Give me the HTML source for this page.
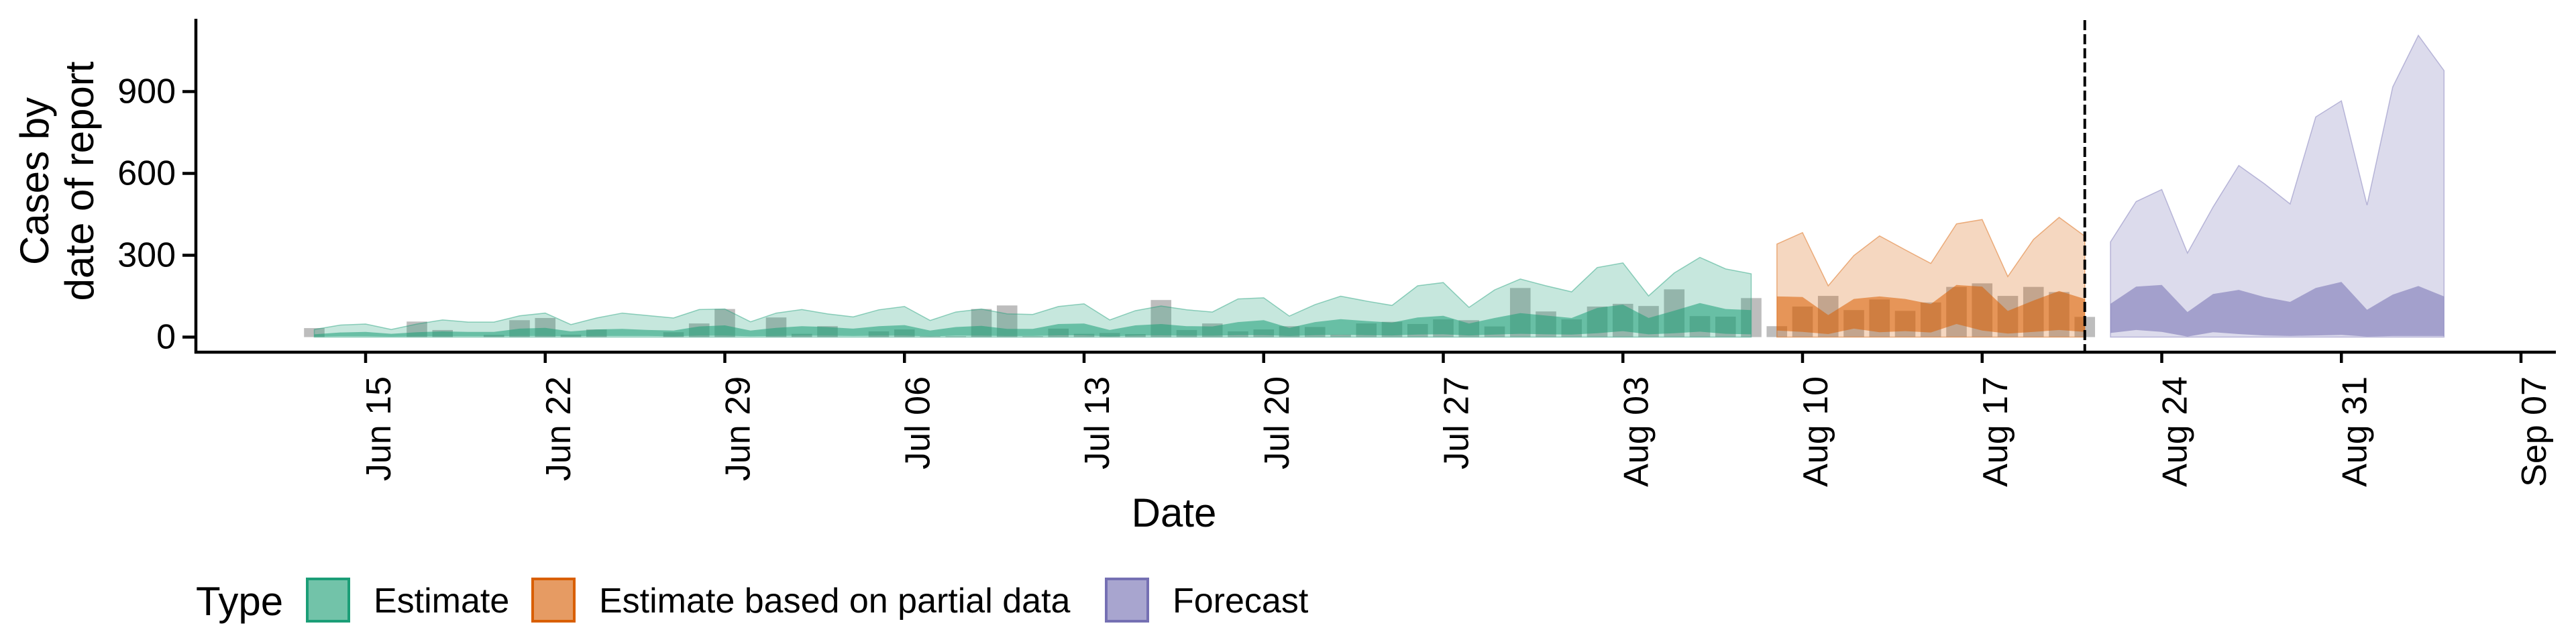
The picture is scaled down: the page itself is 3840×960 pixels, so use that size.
<!DOCTYPE html>
<html><head><meta charset="utf-8"><style>
html,body{margin:0;padding:0;background:#fff;}
svg{display:block;font-family:"Liberation Sans",Arial,sans-serif;}
</style></head><body>
<svg id="chart" width="3840" height="960" viewBox="0 0 3840 960" xmlns="http://www.w3.org/2000/svg">
<g id="bars"></g>
<g id="ribbons"></g>
<g id="axes"></g>
<g id="legend"></g>
</svg>
<script>
// ---- data ----
const startDate = "2020-06-13";
const reportedCases = [33,0,0,0,57,26,0,8,62,70,9,28,0,0,18,50,103,0,
 72,12,40,0,21,28,3,3,103,116,3,31,12,15,11,136,26,50,21,28,40,37,9,50,56,48,65,62,39,180,94,
 65,112,122,114,175,77,75,143,40,112,151,99,138,96,127,184,197,151,184,165,74];
const estOuterUpper = [28,44,48,28,48,63,55,55,78,88,46,70,88,79,70,101,103,56,
 88,101,85,74,100,112,61,92,103,85,83,112,122,63,97,114,100,92,140,144,77,119,150,132,116,188,200,109,173,213,188,
 166,255,272,151,235,292,250,232];
const estInnerUpper = [10,17,19,12,18,21,19,19,31,34,21,28,30,26,24,39,43,24,
 34,40,37,31,40,44,24,37,41,30,30,48,50,26,43,48,40,39,55,62,34,55,66,59,53,72,78,50,70,88,79,
 70,107,119,70,97,125,103,99];
const estInnerLower = [2,3,3,2,3,3,3,3,4,4,3,4,4,4,3,5,5,3,
 4,5,5,4,5,5,3,5,5,4,4,6,6,3,5,6,5,5,7,7,4,7,8,7,6,9,10,6,9,12,10,
 9,14,22,10,14,20,12,10];
const partialOuterUpper = [341,383,188,299,371,320,270,415,431,222,358,439,370];
const partialInnerUpper = [149,147,81,140,149,140,121,191,185,96,134,169,140];
const partialInnerLower = [24,19,11,31,18,22,17,48,24,13,19,26,19];
const forecastOuterUpper = [349,497,541,308,477,629,562,488,807,866,484,917,1106,977];
const forecastInnerUpper = [122,185,191,92,158,173,147,129,180,202,100,156,187,149];
const forecastInnerLower = [15,26,19,2,18,11,6,4,6,8,2,4,4,4];
const yTicks = [0,300,600,900];
const xTickLabels = ["Jun 15","Jun 22","Jun 29","Jul 06","Jul 13","Jul 20","Jul 27","Aug 03","Aug 10","Aug 17","Aug 24","Aug 31","Sep 07"];
const forecastDateOffset = 69; // Aug 22 relative to start
const partialDateOffset = 57;  // Aug 9
const nowcastLineOffset = 69;  // Aug 21 (day index incl. start offset)

// ---- scales ----
const NS = "http://www.w3.org/2000/svg";
const X0 = 545, PXDAY = 38.25, Y0 = 502.5, PXUNIT = 0.4067;
// day index i relative to startDate (Jun 13) -> Jun 15 is i=2
function x(i){ return X0 + (i-2)*PXDAY; }
function y(v){ return Y0 - v*PXUNIT; }
function el(tag, attrs, parent){ const e=document.createElementNS(NS,tag); for(const k in attrs) e.setAttribute(k,attrs[k]); parent.appendChild(e); return e; }

// bars
const barsG = document.getElementById('bars');
reportedCases.forEach((v,i)=>{
  if(v<=0) return;
  const r = el('rect',{x:x(i)-15.3,y:y(v),width:30.6,height:Math.max(0,Y0-y(v)),fill:'#bdbdbd'},barsG);
  
  
});

// ribbons
function ribbon(startIdx, lower, upper, color, op, name, stroke){
  let d='';
  upper.forEach((v,k)=>{ d += (k?'L':'M') + x(startIdx+k).toFixed(1)+','+y(v).toFixed(1); });
  for(let k=lower.length-1;k>=0;k--){ d += 'L'+x(startIdx+k).toFixed(1)+','+y(lower[k]).toFixed(1); }
  d+='Z';
  const p = el('path',{d:d,fill:color,'fill-opacity':op},document.getElementById('ribbons'));
  if(stroke){ p.setAttribute('stroke',color); p.setAttribute('stroke-opacity','0.45'); p.setAttribute('stroke-width','1.5'); }
  
  
}
const zeros = n => new Array(n).fill(0);
ribbon(0, zeros(estOuterUpper.length), estOuterUpper, '#1B9E77', 0.25, 'estimate-outer-ribbon', true);
ribbon(0, estInnerLower, estInnerUpper, '#1B9E77', 0.55, 'estimate-inner-ribbon', false);
ribbon(partialDateOffset, zeros(partialOuterUpper.length), partialOuterUpper, '#D95F02', 0.25, 'partial-outer-ribbon', true);
ribbon(partialDateOffset, partialInnerLower, partialInnerUpper, '#D95F02', 0.55, 'partial-inner-ribbon', false);
ribbon(forecastDateOffset+1, zeros(forecastOuterUpper.length), forecastOuterUpper, '#7570B3', 0.25, 'forecast-outer-ribbon', true);
ribbon(forecastDateOffset+1, forecastInnerLower, forecastInnerUpper, '#7570B3', 0.55, 'forecast-inner-ribbon', false);

// axes
const ax = document.getElementById('axes');
const dl = el('line',{x1:x(nowcastLineOffset),x2:x(nowcastLineOffset),y1:30,y2:525,stroke:'#000','stroke-width':4,'stroke-dasharray':'15 6'},ax);


const ya = el('line',{x1:292,x2:292,y1:28,y2:527,stroke:'#000','stroke-width':4.5},ax);


const xa = el('line',{x1:290,x2:3810,y1:525,y2:525,stroke:'#000','stroke-width':4.5},ax);


yTicks.forEach(v=>{
  const t = el('line',{x1:272,x2:292,y1:y(v),y2:y(v),stroke:'#000','stroke-width':4.5},ax);
  
  
  const lb = el('text',{x:262,y:y(v),'text-anchor':'end','dominant-baseline':'central','font-size':52,fill:'#000'},ax);
  lb.textContent = v;
  
  
});
xTickLabels.forEach((s,k)=>{
  const xx = X0 + k*7*PXDAY;
  const t = el('line',{x1:xx,x2:xx,y1:525,y2:541,stroke:'#000','stroke-width':4.5},ax);
  
  
  const lb = el('text',{transform:`translate(${xx+37},561) rotate(-90)`,'text-anchor':'end','font-size':52,fill:'#000'},ax);
  lb.textContent = s;
  
  
});
</script>
<svg style="position:absolute;left:0;top:0" width="3840" height="960">
<g font-family="Liberation Sans, Arial, sans-serif" fill="#000">
<text transform="translate(72,270) rotate(-90)" text-anchor="middle" font-size="60">Cases by</text>
<text transform="translate(139,270) rotate(-90)" text-anchor="middle" font-size="60">date of report</text>
<text x="1750" y="785" text-anchor="middle" font-size="60">Date</text>
<text x="292" y="917" font-size="60">Type</text>
<g>
<rect x="458" y="863" width="62" height="63" fill="#72c3a9" stroke="#1B9E77" stroke-width="4"/>
<text x="557" y="913" font-size="52">Estimate</text></g>
<g>
<rect x="794" y="863" width="62" height="63" fill="#e69b63" stroke="#D95F02" stroke-width="4"/>
<text x="893" y="913" font-size="52">Estimate based on partial data</text></g>
<g>
<rect x="1649" y="863" width="62" height="63" fill="#a8a5cf" stroke="#7570B3" stroke-width="4"/>
<text x="1748" y="913" font-size="52">Forecast</text></g>
</g></svg>
</body></html>
